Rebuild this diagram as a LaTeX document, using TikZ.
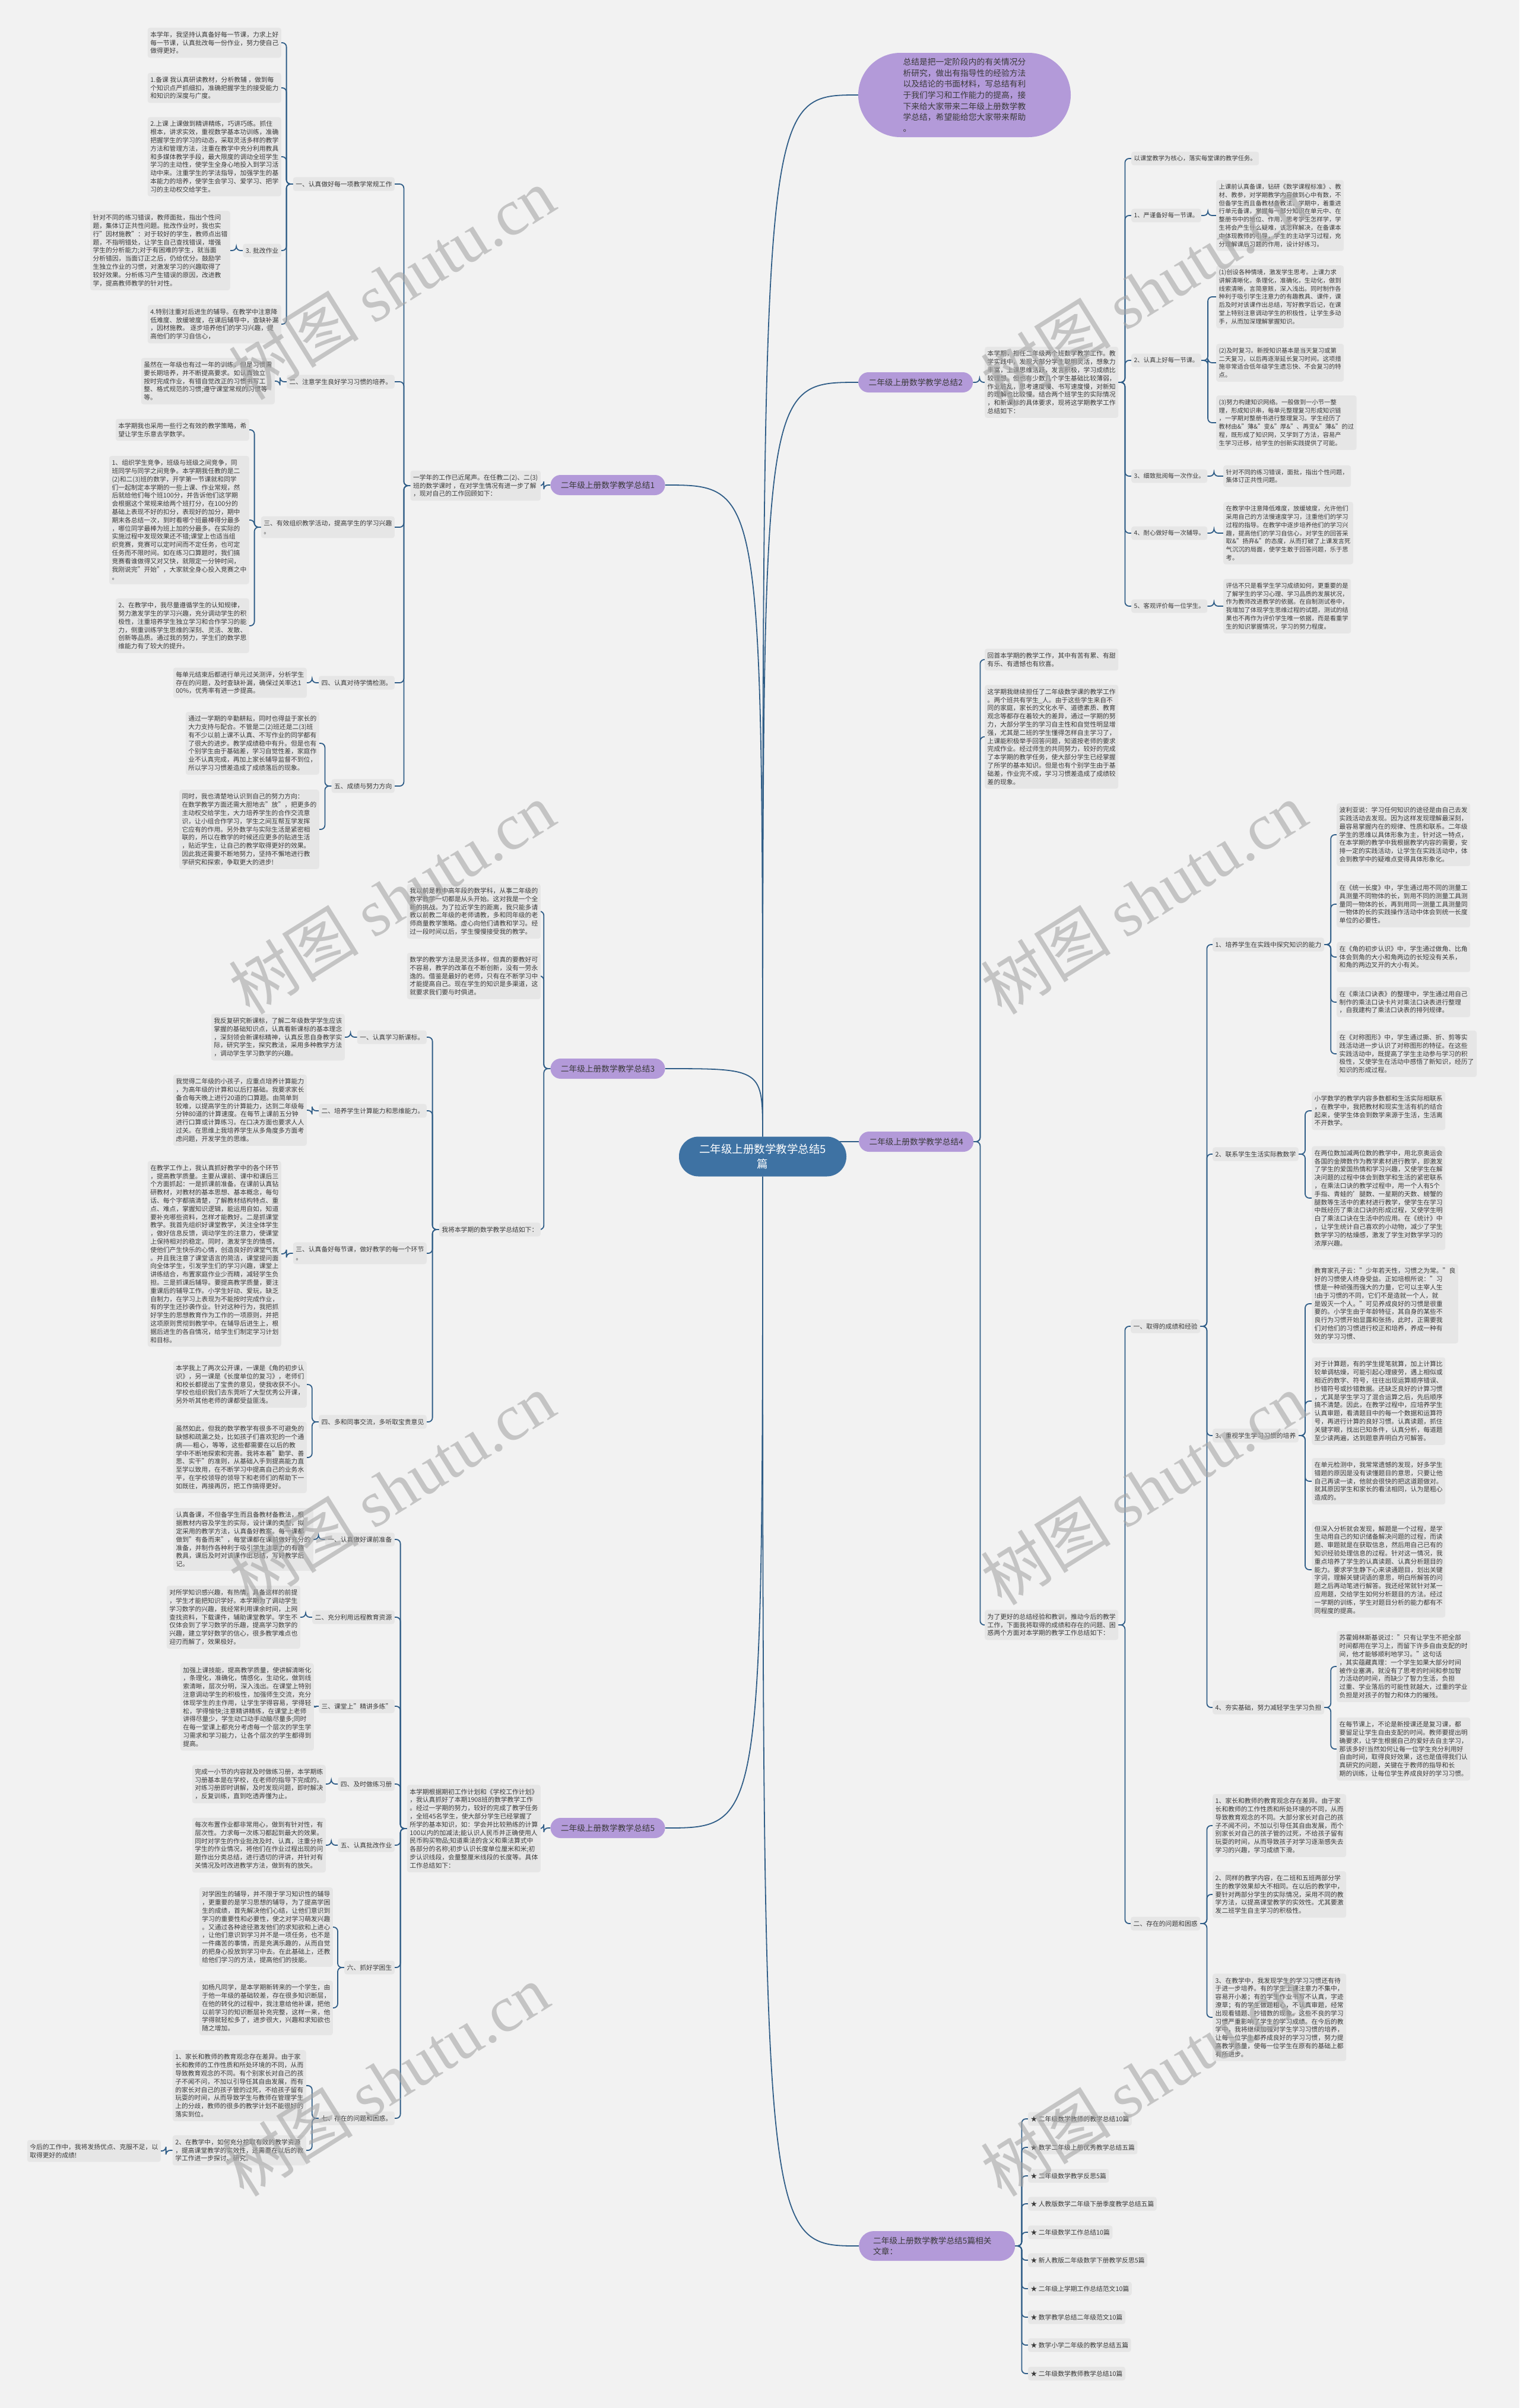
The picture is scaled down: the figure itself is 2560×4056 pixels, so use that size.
\documentclass[tikz,border=0pt]{standalone}
\usepackage{fontspec}
\setmainfont{Noto Sans CJK SC}
\newfontfamily\wmlatin{Liberation Serif}
\usetikzlibrary{backgrounds}
\definecolor{bgc}{HTML}{F2F2F2}
\definecolor{boxc}{HTML}{E6E6E6}
\definecolor{txtc}{HTML}{3A3A3A}
\definecolor{linkc}{HTML}{2F5D87}
\definecolor{purp}{HTML}{B39AD9}
\definecolor{rootc}{HTML}{3E72A3}
\newcommand\fs{\fontsize{10.8}{13.8}\selectfont}
\newcommand\fss{\fontsize{10.3}{13.8}\selectfont}
\newcommand\fb{\fontsize{13.7}{18.5}\selectfont}
\newcommand\ft{\fontsize{13.8}{18.7}\selectfont}
\newcommand\fr{\fontsize{18.5}{25}\selectfont}
\newcommand\fw{\fontsize{110}{120}\selectfont}
\newcommand\lnkL[2]{\draw[link] (#1.west) -- ++(-11,0) |- (#2.east);}
\newcommand\lnkR[2]{\draw[link] (#1.east) -- ++(11,0) |- (#2.west);}
\tikzset{
  box/.style={fill=boxc,text=txtc,rounded corners=4pt,inner xsep=4.5pt,inner ysep=6.5pt,align=left,font=\fs},
  L/.style={box,anchor=east},
  R/.style={box,anchor=west},
  Rs/.style={box,anchor=west,font=\fss},
  branch/.style={fill=purp,text=txtc,rounded corners=17pt,minimum height=34pt,minimum width=193pt,inner xsep=8pt,font=\fb},
  root/.style={fill=rootc,text=white,rounded corners=33pt,minimum width=282pt,minimum height=67pt,align=center,font=\fr},
  link/.style={draw=linkc,line width=1.8pt,rounded corners=7pt},
  clink/.style={draw=linkc,line width=1.8pt},
  wmark/.style={rotate=32,text=black!35,text opacity=0.6,font=\fw}
}
\begin{document}
\begin{tikzpicture}[x=1pt,y=-1pt]
\useasboundingbox (0,0) rectangle (2560,4056);
\node[root] (root) at (1285,1948) {二年级上册数学教学总结5\\篇};

% summary 1
\node[branch] (b1) at (1024,817) {二年级上册数学教学总结1};
\node[L] (s1) at (911,818) {一学年的工作已近尾声。在任教二(2)、二(3)\\班的数学课时 ，在对学生情况有进一步了解\\，现对自己的工作回顾如下：};
\node[L] (s1a) at (665,310) {一、认真做好每一项教学常规工作};
\node[L] (s1a1) at (474,72) {本学年，我坚持认真备好每一节课，力求上好\\每一节课，认真批改每一份作业，努力使自己\\做得更好。};
\node[L] (s1a2) at (474,148) {1.备课 我认真研读教材，分析教辅 ，做到每\\个知识点严抓细扣，准确把握学生的接受能力\\和知识的深度与广度。};
\node[L] (s1a3) at (474,264) {2.上课 上课做到精讲精练，巧讲巧练。抓住\\根本，讲求实效，重视数学基本功训练，准确\\把握学生的学习的动态，采取灵活多样的教学\\方法和管理方法，注重在教学中充分利用教具\\和多媒体教学手段，最大限度的调动全班学生\\学习的主动性，使学生全身心地投入到学习活\\动中来。注重学生的学法指导，加强学生的基\\本能力的培养，使学生会学习、爱学习、把学\\习的主动权交给学生。};
\node[L] (s1a4) at (474,422) {3. 批改作业};
\node[L] (s1a4a) at (388,422) {针对不同的练习错误，教师面批，指出个性问\\题，集体订正共性问题。批改作业时，我也实\\行"因材施教"：对于较好的学生，教师点出错\\题，不指明错处，让学生自己查找错误，增强\\学生的分析能力;对于有困难的学生，就当面\\分析错因，当面订正之后，仍给优分。鼓励学\\生独立作业的习惯，对激发学习的兴趣取得了\\较好效果。分析练习产生错误的原因，改进教\\学，提高教师教学的针对性。};
\node[L] (s1a5) at (474,546) {4.特别注重对后进生的辅导。在教学中注意降\\低难度、放缓坡度，在课后辅导中，查缺补漏\\，因材施教。 逐步培养他们的学习兴趣，提\\高他们的学习自信心，};
\node[L] (s1b) at (665,643) {二、注意学生良好学习习惯的培养。};
\node[L] (s1b1) at (463,642) {虽然在一年级也有过一年的训练，但是习惯需\\要长期培养，并不断提高要求。如认真独立\\按时完成作业，有错自觉改正的习惯书写工\\整、格式规范的习惯;遵守课堂常规的习惯等\\等。};
\node[L] (s1c) at (665,888) {三、有效组织教学活动，提高学生的学习兴趣\\。};
\node[L] (s1c1) at (420,724) {本学期我也采用一些行之有效的教学策略，希\\望让学生乐意去学数学。};
\node[L] (s1c2) at (420,876) {1、组织学生竞争，班级与班级之间竞争，同\\班同学与同学之间竞争。本学期我任教的是二\\(2)和二(3)班的数学，开学第一节课就和同学\\们一起制定本学期的一些上课、作业常规，然\\后就给他们每个班100分，并告诉他们这学期\\会根据这个常规来给两个班打分，在100分的\\基础上表现不好的扣分，表现好的加分，期中\\期末各总结一次，到时看哪个班最棒得分最多\\，哪位同学最棒为班上加的分最多。在实际的\\实施过程中发现效果还不错;课堂上也适当组\\织竞赛，竞赛可以定时间而不定任务，也可定\\任务而不限时间。如在练习口算题时，我们搞\\竞赛看谁做得又对又快，就限定一分钟时间，\\我刚说完"开始"，大家就全身心投入竞赛之中\\。};
\node[L] (s1c3) at (420,1054) {2、在教学中，我尽量遵循学生的认知规律，\\努力激发学生的学习兴趣，充分调动学生的积\\极性，注重培养学生独立学习和合作学习的能\\力，侧重训练学生思维的深刻、灵活、发散、\\创新等品质。通过我的努力，学生们的数学思\\维能力有了较大的提升。};
\node[L] (s1d) at (665,1150) {四、认真对待学情检测。};
\node[L] (s1d1) at (517,1150) {每单元结束后都进行单元过关测评，分析学生\\存在的问题，及时查缺补漏，确保过关率达1\\00\%，优秀率有进一步提高。};
\node[L] (s1e) at (665,1324) {五、成绩与努力方向};
\node[L] (s1e1) at (538,1252) {通过一学期的辛勤耕耘，同时也得益于家长的\\大力支持与配合。不管是二(2)班还是二(3)班\\有不少以前上课不认真、不写作业的同学都有\\了很大的进步。教学成绩稳中有升。但是也有\\个别学生由于基础差，学习自觉性差，家庭作\\业不认真完成，再加上家长辅导监督不到位，\\所以学习习惯差造成了成绩落后的现象。};
\node[L] (s1e2) at (538,1397) {同时，我也清楚地认识到自己的努力方向：\\在数学教学方面还需大胆地去"放"，把更多的\\主动权交给学生，大力培养学生的合作交流意\\识，让小组合作学习，学生之间互帮互学发挥\\它应有的作用。另外数学与实际生活是紧密相\\联的，所以在教学的时候还应更多的贴进生活\\，贴近学生，让自己的教学取得更好的效果。\\因此我还需要不断地努力，坚持不懈地进行教\\学研究和探索，争取更大的进步!};

% summary 3
\node[branch] (b3) at (1024,1800) {二年级上册数学教学总结3};
\node[L] (s3x) at (911,1535) {我以前是教中高年段的数学科，从事二年级的\\数学教学一切都是从头开始。这对我是一个全\\新的挑战。为了拉近学生的距离，我只能多请\\教以前教二年级的老师请教，多和同年级的老\\师商量教学策略。虚心向他们请教和学习。经\\过一段时间以后，学生慢慢接受我的教学。};
\node[L] (s3y) at (911,1644) {数学的教学方法是灵活多样，但真的要教好可\\不容易，教学的改革在不断创新，没有一劳永\\逸的。借鉴是最好的老师，只有在不断学习中\\才能提高自己。现在学生的知识是多渠道，这\\就要求我们要与时俱进。};
\node[L] (s3) at (911,2071) {我将本学期的数学教学总结如下：};
\node[L] (s3a) at (719,1747) {一、认真学习新课标。};
\node[L] (s3a1) at (581,1747) {我反复研究新课标，了解二年级数学学生应该\\掌握的基础知识点，认真看新课标的基本理念\\，深刻领会新课标精神，认真反思自身教学实\\际，研究学生，探究教法，采用多种教学方法\\，调动学生学习数学的兴趣。};
\node[L] (s3b) at (719,1871) {二、培养学生计算能力和思维能力。};
\node[L] (s3b1) at (517,1870) {我觉得二年级的小孩子，应重点培养计算能力\\，为高年级的计算和以后打基础。我要求家长\\备合每天晚上进行20道的口算题。由简单到\\较难，以提高学生的计算能力，达到二年级每\\分钟80道的计算速度。在每节上课前五分钟\\进行口算或计算练习。在口决方面也要求人人\\过关。在思维上我培养学生从多角度多方面考\\虑问题，开发学生的思维。};
\node[L] (s3c) at (719,2111) {三、认真备好每节课，做好教学的每一个环节\\。};
\node[L] (s3c1) at (474,2112) {在教学工作上，我认真抓好教学中的各个环节\\，提高教学质量。主要从课前、课中和课后三\\个方面抓起：一是抓课前准备。在课前认真钻\\研教材，对教材的基本思想、基本概念，每句\\话、每个字都搞清楚，了解教材结构特点、重\\点、难点，掌握知识逻辑，能运用自如，知道\\要补充哪些资料，怎样才能教好。二是抓课堂\\教学。我首先组织好课堂教学，关注全体学生\\，做好信息反馈，调动学生的注意力，使课堂\\上保持相对的稳定。同时，激发学生的情感，\\使他们产生快乐的心情，创造良好的课堂气氛\\。并且我注意了课堂语言的简洁，课堂提问面\\向全体学生，引发学生们的学习兴趣，课堂上\\讲练结合，布置家庭作业少而精，减轻学生负\\担。三是抓课后辅导。要提高教学质量，要注\\重课后的辅导工作。小学生好动、爱玩，缺乏\\自制力，在学习上表现为不能按时完成作业，\\有的学生还抄袭作业。针对这种行为，我把抓\\好学生的思想教育作为工作的一项原则，并把\\这项原则贯彻到教学中。在辅导后进生上，根\\据后进生的各自情况，给学生们制定学习计划\\和目标。};
\node[L] (s3d) at (719,2395) {四、多和同事交流，多听取宝贵意见};
\node[L] (s3d1) at (517,2332) {本学我上了两次公开课，一课是《角的初步认\\识》，另一课是《长度单位的复习》，老师们\\和校长都提出了宝贵的意见，使我收获不小。\\学校也组织我们去东莞听了大型优秀公开课，\\另外听其他老师的课都受益匪浅。};
\node[L] (s3d2) at (517,2455) {虽然如此，但我的数学教学有很多不可避免的\\缺憾和疏漏之处，比如孩子们喜欢犯的一个通\\病——粗心，等等，这些都需要在以后的教\\学中不断地探索和完善。我将本着"勤学、善\\思、实干"的准则，从基础入手到提高能力直\\至学以致用，在不断学习中提高自己的业务水\\平，在学校领导的领导下和老师们的帮助下一\\如既往，再接再厉，把工作搞得更好。};

% summary 5
\node[branch] (b5) at (1024,3079) {二年级上册数学教学总结5};
\node[L] (s5) at (911,3080) {本学期根据期初工作计划和《学校工作计划》\\，我认真抓好了本期1908班的数学教学工作\\。经过一学期的努力，较好的完成了教学任务\\，全班45名学生，使大部分学生已经掌握了\\所学的基本知识，如：学会并比较熟练的计算\\100以内的加减法;能认识人民币并正确使用人\\民币购买物品;知道乘法的含义和乘法算式中\\各部分的名称;初步认识长度单位厘米和米;初\\步认识线段，会量整厘米线段的长度等。具体\\工作总结如下：};
\node[L] (s5a) at (665,2593) {一、认真做好课前准备};
\node[L] (s5a1) at (528,2593) {认真备课，不但备学生而且备教材备教法，根\\据教材内容及学生的实际，设计课的类型，拟\\定采用的教学方法，认真备好教案。每一课都\\做到"有备而来"，每堂课都在课前做好充分的\\准备，并制作各种利于吸引学生注意力的有趣\\教具，课后及时对该课作出总结，写好教学后\\记。};
\node[L] (s5b) at (665,2724) {二、充分利用远程教育资源};
\node[L] (s5b1) at (506,2724) {对所学知识感兴趣，有热情，具备这样的前提\\，学生才能把知识学好。本学期为了调动学生\\学习数学的兴趣，我经常利用课余时间，上网\\查找资料，下载课件，辅助课堂教学。学生不\\仅体会到了学习数学的乐趣，提高学习数学的\\兴趣，建立学好数学的信心，很多教学难点也\\迎刃而解了，效果极好。};
\node[L] (s5c) at (665,2874) {三、课堂上"精讲多练"};
\node[L] (s5c1) at (529,2875) {加强上课技能，提高教学质量，使讲解清晰化\\，条理化，准确化，情感化，生动化，做到线\\索清晰，层次分明，深入浅出。在课堂上特别\\注意调动学生的积极性，加强师生交流，充分\\体现学生的主作用，让学生学得容易，学得轻\\松，学得愉快;注意精讲精练，在课堂上老师\\讲得尽量少，学生动口动手动脑尽量多;同时\\在每一堂课上都充分考虑每一个层次的学生学\\习需求和学习能力，让各个层次的学生都得到\\提高。};
\node[L] (s5d) at (665,3005) {四、及时做练习册};
\node[L] (s5d1) at (549,3005) {完成一小节的内容就及时做练习册，本学期练\\习册基本是在学校，在老师的指导下完成的。\\对练习册即时讲解，及时发现问题，即时解决\\，反复训练，直到吃透弄懂为止。};
\node[L] (s5e) at (665,3108) {五、认真批改作业};
\node[L] (s5e1) at (549,3108) {每次布置作业都非常用心，做到有针对性，有\\层次性。力求每一次练习都起到最大的效果。\\同时对学生的作业批改及时、认真，注重分析\\学生的作业情况，将他们在作业过程出现的问\\题作出分类总结，进行透切的评讲，并针对有\\关情况及时改进教学方法，做到有的放矢。};
\node[L] (s5f) at (665,3314) {六、抓好学困生};
\node[L] (s5f1) at (561,3246) {对学困生的辅导，并不限于学习知识性的辅导\\，更重要的是学习思想的辅导，为了提高学困\\生的成绩，首先解决他们心结，让他们意识到\\学习的重要性和必要性，使之对学习萌发兴趣\\。又通过各种途径激发他们的求知欲和上进心\\，让他们意识到学习并不是一项任务，也不是\\一件痛苦的事情，而是充满乐趣的，从而自觉\\的把身心投放到学习中去。在此基础上，还教\\给他们学习的方法，提高他们的技能。};
\node[L] (s5f2) at (561,3382) {如杨凡同学，是本学期新转来的一个学生，由\\于他一年级的基础较差，存在很多知识断层，\\在他的转化的过程中，我注意给他补课，把他\\以前学习的知识断层补充完整，这样一来，他\\学得就轻松多了，进步很大，兴趣和求知欲也\\随之增加。};
\node[L] (s5g) at (665,3568) {七、存在的问题和困惑。};
\node[L] (s5g1) at (516,3513) {1、家长和教师的教育观念存在差异。由于家\\长和教师的工作性质和所处环境的不同，从而\\导致教育观念的不同。有个别家长对自己的孩\\子不闻不问，不加以引导任其自由发展，而有\\的家长对自己的孩子管的过死，不给孩子留有\\玩耍的时间，从而导致学生与教师在管理学生\\上的分歧，教师的很多的教学计划不能很好的\\落实到位。};
\node[L] (s5g2) at (516,3622) {2、在教学中，如何充分挖取有效的教学资源\\，提高课堂教学的实效性，还需要在以后的教\\学工作进一步探讨、研究。};
\node[L] (s5g2a) at (271,3623) {今后的工作中，我将发扬优点、克服不足，以\\取得更好的成绩!};

% intro
\node[fill=purp,text=txtc,rounded corners=71pt,minimum width=358pt,minimum height=142pt,align=left,font=\ft] (intro) at (1625,160) {总结是把一定阶段内的有关情况分\\析研究，做出有指导性的经验方法\\以及结论的书面材料，写总结有利\\于我们学习和工作能力的提高，接\\下来给大家带来二年级上册数学教\\学总结，希望能给您大家带来帮助\\。};

% summary 2
\node[branch,anchor=west] (b2) at (1446,644) {二年级上册数学教学总结2};
\node[R] (s2) at (1659,644) {本学期，担任二年级两个班数学教学工作。教\\学实践中，发现大部分学生聪明灵活，想象力\\丰富，上课思维活跃，发言积极，学习成绩比\\较理想。但也有少数几个学生基础比较薄弱，\\作业脏乱，思考速度慢、书写速度慢，对新知\\的理解也比较慢。结合两个班学生的实际情况\\，和新课标的具体要求，现将这学期教学工作\\总结如下：};
\node[Rs] (s2a) at (1906,267) {以课堂教学为核心，落实每堂课的教学任务。};
\node[Rs] (s2b) at (1906,363) {1、严谨备好每一节课。};
\node[Rs] (s2b1) at (2049,363) {上课前认真备课，钻研《数学课程标准》、教\\材、教参，对学期教学内容做到心中有数，不\\但备学生而且备教材备教法。学期中，着重进\\行单元备课，掌握每一部分知识在单元中、在\\整册书中的地位、作用，思考学生怎样学，学\\生将会产生什么疑难，该怎样解决，在备课本\\中体现教师的引导，学生的主动学习过程，充\\分理解课后习题的作用，设计好练习。};
\node[Rs] (s2c) at (1906,607) {2、认真上好每一节课。};
\node[Rs] (s2c1) at (2049,500) {(1)创设各种情境，激发学生思考。上课力求\\讲解清晰化，条理化，准确化，生动化，做到\\线索清晰，言简意赅，深入浅出。同时制作各\\种利于吸引学生注意力的有趣教具、课件，课\\后及时对该课作出总结，写好教学后记，在课\\堂上特别注意调动学生的积极性，让学生多动\\手，从而加深理解掌握知识。};
\node[Rs] (s2c2) at (2049,611) {(2)及时复习。新授知识基本是当天复习或第\\二天复习，以后再逐渐延长复习时间。这项措\\施非常适合低年级学生遗忘快、不会复习的特\\点。};
\node[Rs] (s2c3) at (2049,712) {(3)努力构建知识网络。一般做到一小节一整\\理，形成知识串，每单元整理复习形成知识链\\，一学期对整册书进行整理复习。学生经历了\\教材由\&"薄\&"变\&"厚\&"、再变\&"薄\&"的过\\程，既形成了知识网，又学到了方法，容易产\\生学习迁移，给学生的创新实践提供了可能。};
\node[Rs] (s2d) at (1906,802) {3、细致批阅每一次作业。};
\node[Rs] (s2d1) at (2061,802) {针对不同的练习错误，面批，指出个性问题，\\集体订正共性问题。};
\node[Rs] (s2e) at (1906,898) {4、耐心做好每一次辅导。};
\node[Rs] (s2e1) at (2061,898) {在教学中注意降低难度，放缓坡度，允许他们\\采用自己的方法慢速度学习，注重他们的学习\\过程的指导。在教学中逐步培养他们的学习兴\\趣，提高他们的学习自信心，对学生的回答采\\取\&"扬弃\&"的态度，从而打破了上课发言死\\气沉沉的局面，使学生敢于回答问题，乐于思\\考。};
\node[Rs] (s2f) at (1906,1021) {5、客观评价每一位学生。};
\node[Rs] (s2f1) at (2061,1021) {评估不只是看学生学习成绩如何，更重要的是\\了解学生的学习心理、学习品质的发展状况，\\作为教师改进教学的依据。在自制测试卷中，\\我增加了体现学生思维过程的试题，测试的结\\果也不再作为评价学生唯一依据，而是看重学\\生的知识掌握情况，学习的努力程度。};

% summary 4
\node[branch,anchor=west] (b4) at (1447,1923) {二年级上册数学教学总结4};
\node[R] (s4a) at (1659,1111) {回首本学期的教学工作，其中有苦有累、有甜\\有乐、有遗憾也有欣喜。};
\node[R] (s4b) at (1659,1241) {这学期我继续担任了二年级数学课的教学工作\\。两个班共有学生\_人。由于这些学生来自不\\同的家庭，家长的文化水平、道德素质、教育\\观念等都存在着较大的差异，通过一学期的努\\力，大部分学生的学习自主性和自觉性明显增\\强，尤其是二班的学生懂得怎样自主学习了，\\上课能积极举手回答问题，知道按老师的要求\\完成作业。经过师生的共同努力，较好的完成\\了本学期的教学任务，使大部分学生已经掌握\\了所学的基本知识。但是也有个别学生由于基\\础差，作业完不成，学习习惯差造成了成绩较\\差的现象。};
\node[R] (s4c) at (1659,2737) {为了更好的总结经验和教训，推动今后的教学\\工作，下面我将取得的成绩和存在的问题、困\\惑两个方面对本学期的教学工作总结如下：};
\node[R] (s4i) at (1905,2234) {一、取得的成绩和经验};
\node[R] (s4i1) at (2043,1591) {1、培养学生在实践中探究知识的能力};
\node[R] (s4i1a) at (2252,1406) {波利亚说：学习任何知识的途径是由自己去发\\实践活动去发现。因为这样发现理解最深刻，\\最容易掌握内在的规律、性质和联系。二年级\\学生的思维以具体形象为主，针对这一特点，\\在本学期的教学中我根据教学内容的需要，安\\排一定的实践活动，让学生在实践活动中，体\\会到教学中的疑难点变得具体形象化。};
\node[R] (s4i1b) at (2252,1523) {在《统一长度》中，学生通过用不同的测量工\\具测量不同物体的长，到用不同的测量工具测\\量同一物体的长，再到用同一测量工具测量同\\一物体的长的实践操作活动中体会到统一长度\\单位的必要性。};
\node[R] (s4i1c) at (2252,1612) {在《角的初步认识》中，学生通过做角、比角\\体会到角的大小和角两边的长短没有关系，\\和角的两边叉开的大小有关。};
\node[R] (s4i1d) at (2252,1688) {在《乘法口诀表》的整理中，学生通过用自己\\制作的乘法口诀卡片对乘法口诀表进行整理\\，自我建构了乘法口诀表的排列规律。};
\node[R] (s4i1e) at (2252,1775) {在《对称图形》中，学生通过撕、折、剪等实\\践活动进一步认识了对称图形的特征。在这些\\实践活动中，既提高了学生主动参与学习的积\\极性，又使学生在活动中感悟了新知识，经历了\\知识的形成过程。};
\node[R] (s4i2) at (2043,1944) {2、联系学生生活实际教数学};
\node[R] (s4i2a) at (2210,1871) {小学数学的教学内容多数都和生活实际相联系\\，在教学中，我把教材和现实生活有机的结合\\起来，使学生体会到数学来源于生活，生活离\\不开数学。};
\node[R] (s4i2b) at (2210,2018) {在两位数加减两位数的教学中，用北京奥运会\\各国的金牌数作为教学素材进行教学，即激发\\了学生的爱国热情和学习兴趣，又使学生在解\\决问题的过程中体会到数学和生活的紧密联系\\，在乘法口诀的教学过程中，用一个人有5个\\手指、青蛙的'腿数、一星期的天数、螃蟹的\\腿数等生活中的素材进行教学，使学生在学习\\中既经历了乘法口诀的形成过程，又使学生明\\白了乘法口诀在生活中的应用。在《统计》中\\，让学生统计自己喜欢的小动物，减少了学生\\数学学习的枯燥感，激发了学生对数学学习的\\浓厚兴趣。};
\node[R] (s4i3) at (2043,2418) {3、重视学生学习习惯的培养};
\node[R] (s4i3a) at (2210,2196) {教育家孔子云："少年若天性，习惯之为常。"良\\好的习惯使人终身受益。正如培根所说："习\\惯是一种顽强而强大的力量，它可以主宰人生\\!由于习惯的不同，它们不是造就一个人，就\\是毁灭一个人。"可见养成良好的习惯是很重\\要的。小学生由于年龄特征，其自身的某些不\\良行为习惯开始显露和张扬，此时，正需要我\\们对他们的习惯进行校正和培养，养成一种有\\效的学习习惯、};
\node[R] (s4i3b) at (2210,2360) {对于计算题，有的学生提笔就算，加上计算比\\较单调枯燥，可能引起心理疲劳，遇上相似或\\相近的数字、符号，往往出现运算顺序错误、\\抄错符号或抄错数据。还缺乏良好的计算习惯\\，尤其是学生学习了混合运算之后，先后顺序\\搞不清楚。因此，在教学过程中，应培养学生\\认真审题，看清题目中的每一个数据和运算符\\号，再进行计算的良好习惯。认真读题，抓住\\关键字眼，找出已知条件，认真分析，每道题\\至少读两遍，达到题意弄明白方可解答。};
\node[R] (s4i3c) at (2210,2495) {在单元检测中，我常常遗憾的发现，好多学生\\错题的原因是没有读懂题目的意思，只要让他\\自己再读一读，他就会很快的把这道题做对。\\就其原因学生和家长的看法相同，认为是粗心\\造成的。};
\node[R] (s4i3d) at (2210,2644) {但深入分析就会发现，解题是一个过程，是学\\生动用自己的知识储备解决问题的过程，而读\\题、审题就是在获取信息，然后用自己已有的\\知识经验处理信息的过程。针对这一情况，我\\重点培养了学生的认真读题、认真分析题目的\\能力。要求学生静下心来读通题目，划出关键\\字词，理解关键词语的意思，明白所解答的问\\题之后再动笔进行解答。我还经常就针对某一\\应用题，交给学生如何分析题目的方法。经过\\一学期的训练，学生对题目分析的能力都有不\\同程度的提高。};
\node[R] (s4i4) at (2043,2876) {4、夯实基础，努力减轻学生学习负担};
\node[R] (s4i4a) at (2252,2807) {苏霍姆林斯基说过："只有让学生不把全部\\时间都用在学习上，而留下许多自由支配的时\\间，他才能够顺利地学习。"这句话\\，其实蕴藏真理：一个学生如果大部分时间\\被作业塞满，就没有了思考的时间和参加智\\力活动的时间，而缺少了智力生活，负担\\过重、学业落后的可能性就越大，过重的学业\\负担是对孩子的智力和体力的摧残。};
\node[R] (s4i4b) at (2252,2946) {在每节课上，不论是新授课还是复习课，都\\要留足让学生自由支配的时间。教师要提出明\\确要求，让学生根据自己的爱好去自主学习，\\那该多好!当然如何让每一位学生充分利用好\\自由时间，取得良好效果，这也是值得我们认\\真研究的问题，关键在于教师的指导和长\\期的训练，让每位学生养成良好的学习习惯。};
\node[R] (s4j) at (1905,3240) {二、存在的问题和困惑};
\node[R] (s4j1) at (2043,3075) {1、家长和教师的教育观念存在差异。由于家\\长和教师的工作性质和所处环境的不同，从而\\导致教育观念的不同。大部分家长对自己的孩\\子不闻不问，不加以引导任其自由发展，而个\\别家长对自己的孩子管的过死，不给孩子留有\\玩耍的时间，从而导致孩子对学习逐渐感失去\\学习的兴趣，学习成绩下滑。};
\node[R] (s4j2) at (2043,3191) {2、同样的教学内容，在二班和五班两部分学\\生的教学效果却大不相同。在以后的教学中，\\要针对两部分学生的实际情况，采用不同的教\\学方法，以提高课堂教学的实效性。尤其要激\\发二班学生自主学习的积极性。};
\node[R] (s4j3) at (2043,3398) {3、在教学中，我发现学生的学习习惯还有待\\于进一步培养。有的学生上课注意力不集中，\\容易开小差；有的学生作业书写不认真，字迹\\潦草；有的学生做题粗心，不认真审题，经常\\出现看错题、抄错数的现象。这些不良的学习\\习惯严重影响了学生的学习成绩。在今后的教\\学中，我将继续加强对学生学习习惯的培养，\\让每一位学生都养成良好的学习习惯，努力提\\高教学质量，使每一位学生在原有的基础上都\\有所进步。};

% related articles
\node[branch,anchor=west,align=left,text width=215pt,inner xsep=24pt,minimum height=50pt,rounded corners=25pt] (rel) at (1447,3783) {二年级上册数学教学总结5篇相关\\文章：};
\node[R] (r1) at (1732,3569) {★ 二年级数学教师的教学总结10篇};
\node[R] (r2) at (1732,3617) {★ 数学二年级上册优秀教学总结五篇};
\node[R] (r3) at (1732,3665) {★ 二年级数学教学反思5篇};
\node[R] (r4) at (1732,3712) {★ 人教版数学二年级下册季度教学总结五篇};
\node[R] (r5) at (1732,3760) {★ 二年级数学工作总结10篇};
\node[R] (r6) at (1732,3807) {★ 新人教版二年级数学下册教学反思5篇};
\node[R] (r7) at (1732,3855) {★ 二年级上学期工作总结范文10篇};
\node[R] (r8) at (1732,3903) {★ 数学教学总结二年级范文10篇};
\node[R] (r9) at (1732,3950) {★ 数学小学二年级的教学总结五篇};
\node[R] (r10) at (1732,3998) {★ 二年级数学教师教学总结10篇};

\begin{scope}[on background layer]
\fill[bgc] (0,0) rectangle (2560,4056);
\draw[clink] (root.north) .. controls (root.north |- b1.east) and (root.north |- b1.east) .. (b1.east);
\draw[clink] (root.north) .. controls (root.north |- b3.east) and (root.north |- b3.east) .. (b3.east);
\draw[clink] (root.north) .. controls (root.north |- intro.west) and (root.north |- intro.west) .. (intro.west);
\draw[clink] (root.north) .. controls (root.north |- b2.west) and (root.north |- b2.west) .. (b2.west);
\draw[clink] (root.south) .. controls (root.south |- b5.east) and (root.south |- b5.east) .. (b5.east);
\draw[clink] (root.south) .. controls (root.south |- rel.west) and (root.south |- rel.west) .. (rel.west);
\draw[clink] (b4.west) -- ++(-50,0);
\lnkL{b1}{s1}
\lnkL{s1}{s1a} \lnkL{s1}{s1b} \lnkL{s1}{s1c} \lnkL{s1}{s1d} \lnkL{s1}{s1e}
\lnkL{s1a}{s1a1} \lnkL{s1a}{s1a2} \lnkL{s1a}{s1a3} \lnkL{s1a}{s1a4} \lnkL{s1a}{s1a5}
\lnkL{s1a4}{s1a4a}
\lnkL{s1b}{s1b1}
\lnkL{s1c}{s1c1} \lnkL{s1c}{s1c2} \lnkL{s1c}{s1c3}
\lnkL{s1d}{s1d1}
\lnkL{s1e}{s1e1} \lnkL{s1e}{s1e2}
\lnkL{b3}{s3x} \lnkL{b3}{s3y} \lnkL{b3}{s3}
\lnkL{s3}{s3a} \lnkL{s3}{s3b} \lnkL{s3}{s3c} \lnkL{s3}{s3d}
\lnkL{s3a}{s3a1} \lnkL{s3b}{s3b1} \lnkL{s3c}{s3c1}
\lnkL{s3d}{s3d1} \lnkL{s3d}{s3d2}
\lnkL{b5}{s5}
\lnkL{s5}{s5a} \lnkL{s5}{s5b} \lnkL{s5}{s5c} \lnkL{s5}{s5d}
\lnkL{s5}{s5e} \lnkL{s5}{s5f} \lnkL{s5}{s5g}
\lnkL{s5a}{s5a1} \lnkL{s5b}{s5b1} \lnkL{s5c}{s5c1} \lnkL{s5d}{s5d1} \lnkL{s5e}{s5e1}
\lnkL{s5f}{s5f1} \lnkL{s5f}{s5f2}
\lnkL{s5g}{s5g1} \lnkL{s5g}{s5g2}
\lnkL{s5g2}{s5g2a}
\lnkR{b2}{s2}
\lnkR{s2}{s2a} \lnkR{s2}{s2b} \lnkR{s2}{s2c} \lnkR{s2}{s2d} \lnkR{s2}{s2e} \lnkR{s2}{s2f}
\lnkR{s2b}{s2b1}
\lnkR{s2c}{s2c1} \lnkR{s2c}{s2c2} \lnkR{s2c}{s2c3}
\lnkR{s2d}{s2d1} \lnkR{s2e}{s2e1} \lnkR{s2f}{s2f1}
\lnkR{b4}{s4a} \lnkR{b4}{s4b} \lnkR{b4}{s4c}
\lnkR{s4c}{s4i} \lnkR{s4c}{s4j}
\lnkR{s4i}{s4i1} \lnkR{s4i}{s4i2} \lnkR{s4i}{s4i3} \lnkR{s4i}{s4i4}
\lnkR{s4i1}{s4i1a} \lnkR{s4i1}{s4i1b} \lnkR{s4i1}{s4i1c} \lnkR{s4i1}{s4i1d} \lnkR{s4i1}{s4i1e}
\lnkR{s4i2}{s4i2a} \lnkR{s4i2}{s4i2b}
\lnkR{s4i3}{s4i3a} \lnkR{s4i3}{s4i3b} \lnkR{s4i3}{s4i3c} \lnkR{s4i3}{s4i3d}
\lnkR{s4i4}{s4i4a} \lnkR{s4i4}{s4i4b}
\lnkR{s4j}{s4j1} \lnkR{s4j}{s4j2} \lnkR{s4j}{s4j3}
\lnkR{rel}{r1} \lnkR{rel}{r2} \lnkR{rel}{r3} \lnkR{rel}{r4} \lnkR{rel}{r5}
\lnkR{rel}{r6} \lnkR{rel}{r7} \lnkR{rel}{r8} \lnkR{rel}{r9} \lnkR{rel}{r10}
\end{scope}

% watermark
\node[wmark] (wm1) at (660,478) {树图 {\wmlatin shutu.cn}};
\node[wmark] (wm2) at (1927,490) {树图 {\wmlatin shutu.cn}};
\node[wmark] (wm3) at (660,1513) {树图 {\wmlatin shutu.cn}};
\node[wmark] (wm4) at (1927,1513) {树图 {\wmlatin shutu.cn}};
\node[wmark] (wm5) at (660,2508) {树图 {\wmlatin shutu.cn}};
\node[wmark] (wm6) at (1927,2508) {树图 {\wmlatin shutu.cn}};
\node[wmark] (wm7) at (650,3504) {树图 {\wmlatin shutu.cn}};
\node[wmark] (wm8) at (1927,3504) {树图 {\wmlatin shutu.cn}};
\end{tikzpicture}
\end{document}
